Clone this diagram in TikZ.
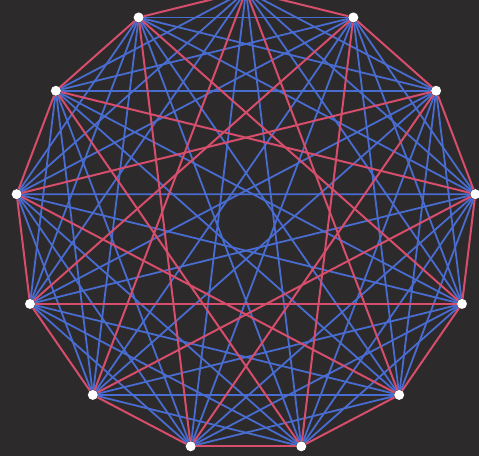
\documentclass[tikz,border=0pt]{standalone}
\usepackage{tikz}
\definecolor{bgray}{RGB}{45,42,43}
\definecolor{redc}{RGB}{214,78,108}
\definecolor{bluec}{RGB}{72,108,208}

\begin{document}
\begin{tikzpicture}[x=1pt,y=1pt,
  vert/.style={circle,fill=white,inner sep=0pt,minimum size=10pt},
  redline/.style={draw=redc,line width=2pt},
  blueline/.style={draw=bluec,line width=1.8pt}]
\fill[bgray] (0,0) rectangle (479,456);
\useasboundingbox (0,0) rectangle (479,456);
\clip (0,0) rectangle (479,456);
\coordinate (c) at (246,234);
\foreach \i in {0,...,12} {
  \pgfmathsetmacro\ang{90+360*\i/13}
  \node[vert] (v\i) at ([shift={(\ang:231)}]c) {};
}
% blue chords: steps 2,3,4,6
\foreach \i in {0,...,12} {
  \foreach \d in {2,3,4,6} {
    \pgfmathtruncatemacro\j{mod(\i+\d,13)}
    \draw[blueline] (v\i) -- (v\j);
  }
}
% red chords: steps 1,5
\foreach \i in {0,...,12} {
  \foreach \d in {1,5} {
    \pgfmathtruncatemacro\j{mod(\i+\d,13)}
    \draw[redline] (v\i) -- (v\j);
  }
}
\end{tikzpicture}
\end{document}
